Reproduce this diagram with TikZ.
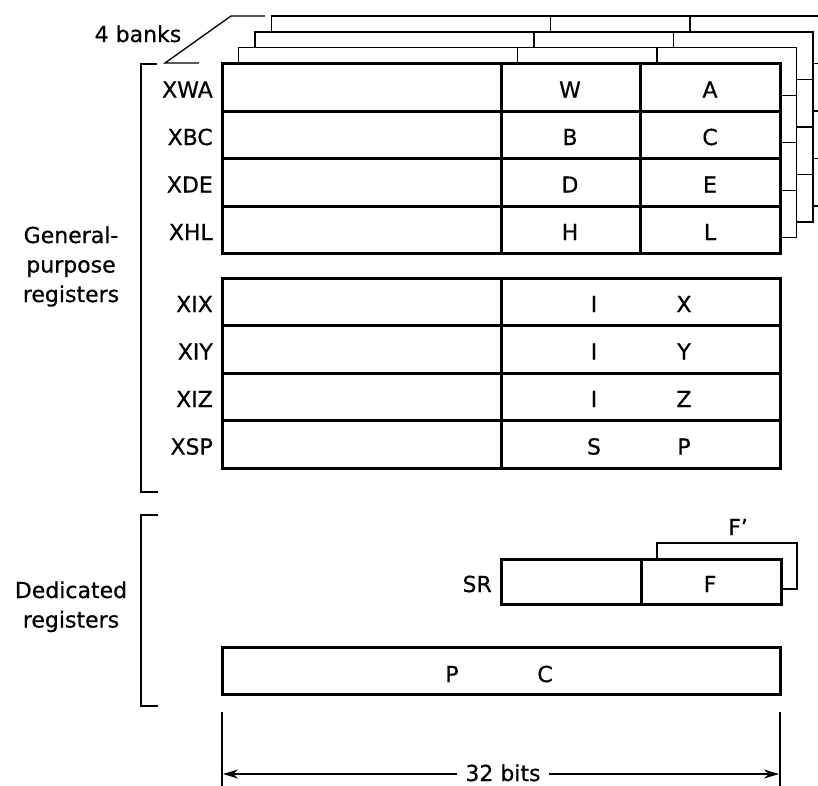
\documentclass[tikz,border=0pt]{standalone}
\usepackage{fontspec}
\setmainfont{DejaVu Sans}
\newfontfamily\lblfont[FakeBold=0.6]{DejaVu Sans}
\usetikzlibrary{arrows.meta}
\begin{document}
\begin{tikzpicture}[x=1pt,y=-1pt,
  thickbox/.style={line width=3pt},
  thinline/.style={line width=1.3pt},
  brk/.style={line width=2pt},
  lbl/.style={font=\lblfont\fontsize{22}{26}\selectfont, inner sep=0pt},
  rowlbl/.style={lbl, anchor=base east},
  cell/.style={lbl, anchor=base},
]
\useasboundingbox (0,0) rectangle (818,785);
\fill[white] (0,0) rectangle (818,785);

% ---- bank layers (behind) ----
\foreach \k in {3,2,1} {
  \begin{scope}[shift={(16.5*\k,-15.8*\k)}]
    \draw[thinline, fill=white] (222,63.5) rectangle (780,253.5);
    \foreach \yy in {111,158.5,206} \draw[thinline] (222,\yy) -- (780,\yy);
    \draw[thinline] (501,63.5) -- (501,253.5);
    \draw[thinline] (640.5,63.5) -- (640.5,253.5);
  \end{scope}
}

% ---- main bank ----
\draw[thickbox, fill=white] (222,63.5) rectangle (780,253.5);
\foreach \yy in {111,158.5,206} \draw[thickbox] (222,\yy) -- (780,\yy);
\draw[thickbox] (501,63.5) -- (501,253.5);
\draw[thickbox] (640.5,63.5) -- (640.5,253.5);

% ---- index registers ----
\draw[thickbox] (222,278) rectangle (780,468);
\foreach \yy in {325.5,373,420.5} \draw[thickbox] (222,\yy) -- (780,\yy);
\draw[thickbox] (501,278) -- (501,468);

% ---- 4 banks pointer ----
\node[lbl, anchor=base] (banks) at (138,42) {4 banks};
\coordinate (bkA) at (265,16);
\coordinate (bkB) at (231,16);
\coordinate (bkC) at (165,63);
\coordinate (bkD) at (199,63);
\draw[thinline] (bkA) -- (bkB) -- (bkC) -- (bkD);

% ---- row labels ----
\node[rowlbl] (xwa) at (213,97.5) {XWA};
\node[rowlbl] (xbc) at (213,145) {XBC};
\node[rowlbl] (xde) at (213,192.5) {XDE};
\node[rowlbl] (xhl) at (213,240) {XHL};
\node[rowlbl] (xix) at (213,312) {XIX};
\node[rowlbl] (xiy) at (213,359.5) {XIY};
\node[rowlbl] (xiz) at (213,407) {XIZ};
\node[rowlbl] (xsp) at (213,454.5) {XSP};

% ---- cell letters ----
\node[cell] (w) at (570,97.5) {W};
\node[cell] (a) at (710,97.5) {A};
\node[cell] (b) at (570,145) {B};
\node[cell] (c) at (710,145) {C};
\node[cell] (d) at (570,192.5) {D};
\node[cell] (e) at (710,192.5) {E};
\node[cell] (h) at (570,240) {H};
\node[cell] (l) at (710,240) {L};
\node[cell] (i1) at (594,312) {I};
\node[cell] (x1) at (684,312) {X};
\node[cell] (i2) at (594,359.5) {I};
\node[cell] (y2) at (684,359.5) {Y};
\node[cell] (i3) at (594,407) {I};
\node[cell] (z3) at (684,407) {Z};
\node[cell] (s4) at (594,454.5) {S};
\node[cell] (p4) at (684,454.5) {P};

% ---- general purpose bracket ----
\coordinate (g1) at (157,64);
\coordinate (g2) at (141,64);
\coordinate (g3) at (141,492);
\coordinate (g4) at (158,492);
\draw[brk] (g1) -- (g2) -- (g3) -- (g4);
\node[lbl, anchor=base] (gp1) at (71,243) {General-};
\node[lbl, anchor=base] (gp2) at (71,272.5) {purpose};
\node[lbl, anchor=base] (gp3) at (71,302) {registers};

% ---- SR ----
\coordinate (f1) at (657,559);
\coordinate (f2) at (657,543);
\coordinate (f3) at (797,543);
\coordinate (f4) at (797,589);
\coordinate (f5) at (782,589);
\draw[thinline] (f1) -- (f2) -- (f3) -- (f4) -- (f5);
\draw[thickbox, fill=white] (501,559) rectangle (781,604);
\draw[thickbox] (641,559) -- (641,604);
\node[lbl, anchor=base east] (sr) at (492,592) {SR};
\node[cell] (f) at (710,592) {F};
\node[cell] (fp) at (738,535) {F’};

% ---- PC ----
\draw[thickbox] (222,647) rectangle (780,694);
\node[cell] (pcp) at (452,682) {P};
\node[cell] (pcc) at (545,682) {C};

% ---- dedicated bracket ----
\coordinate (d1) at (158,515);
\coordinate (d2) at (141,515);
\coordinate (d3) at (141,706);
\coordinate (d4) at (158,706);
\draw[brk] (d1) -- (d2) -- (d3) -- (d4);
\node[lbl, anchor=base] (dr1) at (71,598) {Dedicated};
\node[lbl, anchor=base] (dr2) at (71,627.5) {registers};

% ---- 32 bits ----
\coordinate (t1a) at (222,712);
\coordinate (t1b) at (222,790);
\coordinate (t2a) at (780,712);
\coordinate (t2b) at (780,790);
\draw[thinline] (t1a) -- (t1b);
\draw[thinline] (t2a) -- (t2b);
\node[lbl, anchor=base, inner xsep=8pt] (bits) at (503,781) {32 bits};
\coordinate (al) at (223,774);
\coordinate (ar) at (779,774);
\draw[thinline, -{Stealth[length=15pt,width=9pt]}] (bits.west |- al) -- (al);
\draw[thinline, -{Stealth[length=15pt,width=9pt]}] (bits.east |- ar) -- (ar);
\end{tikzpicture}
\end{document}
